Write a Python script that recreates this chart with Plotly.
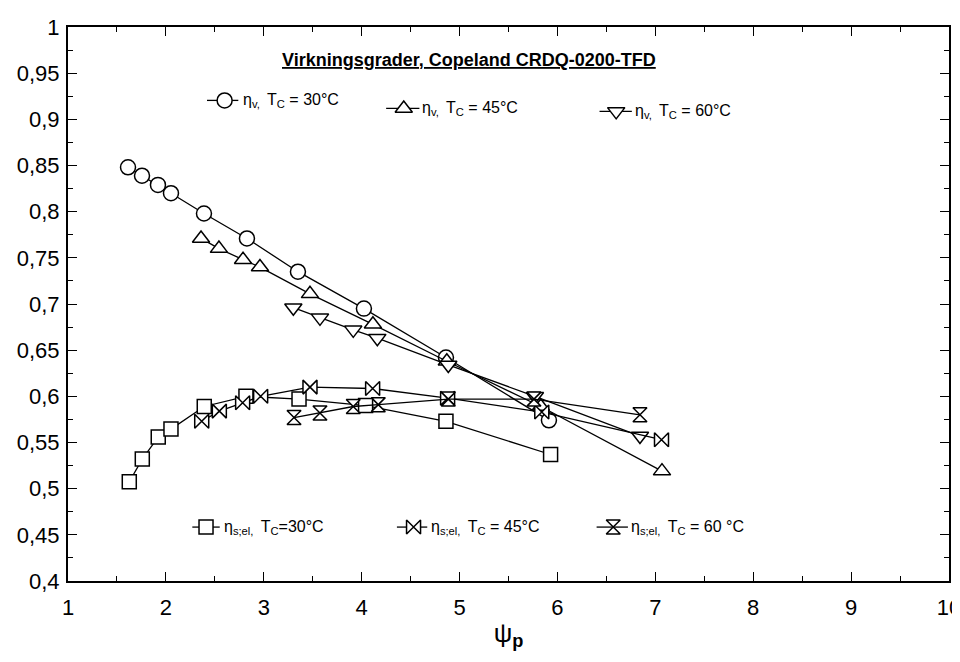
import plotly.graph_objects as go

# ---------------- data ----------------
psi_v30 = [1.613, 1.756, 1.919, 2.052, 2.389, 2.828, 3.349, 4.023, 4.861, 5.913]
eta_v30 = [0.848, 0.839, 0.829, 0.820, 0.798, 0.771, 0.735, 0.695, 0.642, 0.574]

psi_v45 = [2.359, 2.542, 2.788, 2.961, 3.472, 4.115, 4.870, 5.830, 7.068]
eta_v45 = [0.771, 0.760, 0.748, 0.740, 0.711, 0.678, 0.638, 0.589, 0.519]

psi_v60 = [3.302, 3.574, 3.914, 4.160, 4.885, 5.770, 6.843]
eta_v60 = [0.696, 0.685, 0.672, 0.663, 0.634, 0.600, 0.557]

psi_s30 = [1.626, 1.759, 1.922, 2.052, 2.392, 2.818, 3.360, 4.040, 4.861, 5.930]
eta_s30 = [0.5075, 0.532, 0.556, 0.5645, 0.589, 0.600, 0.597, 0.590, 0.573, 0.537]

psi_s45 = [2.366, 2.546, 2.784, 2.968, 3.472, 4.112, 4.878, 5.840, 7.063]
eta_s45 = [0.573, 0.584, 0.593, 0.600, 0.610, 0.6085, 0.598, 0.583, 0.553]

psi_s60 = [3.309, 3.574, 3.914, 4.170, 4.885, 5.760, 6.843]
eta_s60 = [0.577, 0.582, 0.589, 0.591, 0.597, 0.597, 0.580]

x_tickvals = [1, 2, 3, 4, 5, 6, 7, 8, 9, 10]
x_ticktext = ["1", "2", "3", "4", "5", "6", "7", "8", "9", "10"]
y_tickvals = [0.4, 0.45, 0.5, 0.55, 0.6, 0.65, 0.7, 0.75, 0.8, 0.85, 0.9, 0.95, 1.0]
y_ticktext = ["0,4", "0,45", "0,5", "0,55", "0,6", "0,65", "0,7", "0,75", "0,8",
              "0,85", "0,9", "0,95", "1"]

title_text = "<b><u>Virkningsgrader, Copeland CRDQ-0200-TFD</u></b>"
legend_texts = [
    "η<sub>v, </sub> T<sub>C</sub> = 30°C",
    "η<sub>v, </sub> T<sub>C</sub> = 45°C",
    "η<sub>v, </sub> T<sub>C</sub> = 60°C",
    "η<sub>s;el, </sub> T<sub>C</sub>=30°C",
    "η<sub>s;el, </sub> T<sub>C</sub> = 45°C",
    "η<sub>s;el, </sub> T<sub>C</sub> = 60 °C",
]

# ---------------- styles ----------------
FONT = "Liberation Sans, Arial, sans-serif"
series = [
    (psi_v30, eta_v30, "circle", 15),
    (psi_v45, eta_v45, "triangle-up", 15),
    (psi_v60, eta_v60, "triangle-down", 15),
    (psi_s30, eta_s30, "square", 14),
    (psi_s45, eta_s45, "bowtie", 14),
    (psi_s60, eta_s60, "hourglass", 14),
]

# legend sample placement (in data units): line x0, x1, marker x, y, text x
legend_pos = [
    (2.42, 2.74, 2.60, 0.9205, 2.765),
    (4.25, 4.59, 4.43, 0.9118, 4.595),
    (6.43, 6.76, 6.60, 0.9086, 6.770),
    (2.27, 2.55, 2.41, 0.4584, 2.575),
    (4.36, 4.67, 4.53, 0.4584, 4.685),
    (6.40, 6.72, 6.57, 0.4584, 6.735),
]

fig = go.Figure()

for xs, ys, sym, sz in series:
    fig.add_trace(go.Scatter(
        x=xs, y=ys, mode="lines+markers",
        line=dict(color="black", width=1.3),
        marker=dict(symbol=sym, size=sz, color="white",
                    line=dict(color="black", width=1.5)),
        showlegend=False, hoverinfo="skip"))

annotations = []
for (x0, x1, xm, yl, xt), (xs, ys, sym, sz), txt in zip(legend_pos, series, legend_texts):
    fig.add_trace(go.Scatter(
        x=[x0, x1], y=[yl, yl], mode="lines",
        line=dict(color="black", width=1.3), showlegend=False, hoverinfo="skip"))
    fig.add_trace(go.Scatter(
        x=[xm], y=[yl], mode="markers",
        marker=dict(symbol=sym, size=sz, color="white",
                    line=dict(color="black", width=1.5)),
        showlegend=False, hoverinfo="skip"))
    annotations.append(dict(
        x=xt, y=yl, xref="x", yref="y", text=txt, showarrow=False,
        xanchor="left", yanchor="middle",
        font=dict(family=FONT, size=16, color="black")))

annotations.append(dict(
    x=5.10, y=0.9648, xref="x", yref="y", text=title_text, showarrow=False,
    xanchor="center", yanchor="middle",
    font=dict(family=FONT, size=18, color="black")))

# page body has an 8px margin; figure sized so the page does not scroll
fig.update_layout(
    width=952, height=646,
    margin=dict(l=60, r=11, t=19, b=73, pad=0, autoexpand=False),
    paper_bgcolor="white", plot_bgcolor="white",
    font=dict(family=FONT, color="black"),
    annotations=annotations,
)

fig.update_xaxes(
    range=[1, 10], tickmode="array", tickvals=x_tickvals, ticktext=x_ticktext,
    ticks="inside", ticklen=9, tickwidth=1.3, tickcolor="black",
    minor=dict(ticks="inside", dtick=0.5, ticklen=5, tickwidth=1.3, tickcolor="black"),
    showline=True, linewidth=2, linecolor="black", mirror="ticks",
    showgrid=False, zeroline=False, automargin=False,
    tickfont=dict(family=FONT, size=22, color="black"),
    ticklabelstandoff=6, ticklabeloverflow="allow",
    title=dict(text="ψ<sub><b>p</b></sub>", font=dict(family=FONT, size=26, color="black"),
               standoff=4),
)
fig.update_yaxes(
    range=[0.4, 1.0], tickmode="array", tickvals=y_tickvals, ticktext=y_ticktext,
    ticks="inside", ticklen=9, tickwidth=1.3, tickcolor="black",
    minor=dict(ticks="inside", dtick=0.025, ticklen=5, tickwidth=1.3, tickcolor="black"),
    showline=True, linewidth=2, linecolor="black", mirror="ticks",
    showgrid=False, zeroline=False, automargin=False,
    tickfont=dict(family=FONT, size=22, color="black"),
    ticklabelstandoff=2, ticklabeloverflow="allow",
)

fig.write_html("out.html")
